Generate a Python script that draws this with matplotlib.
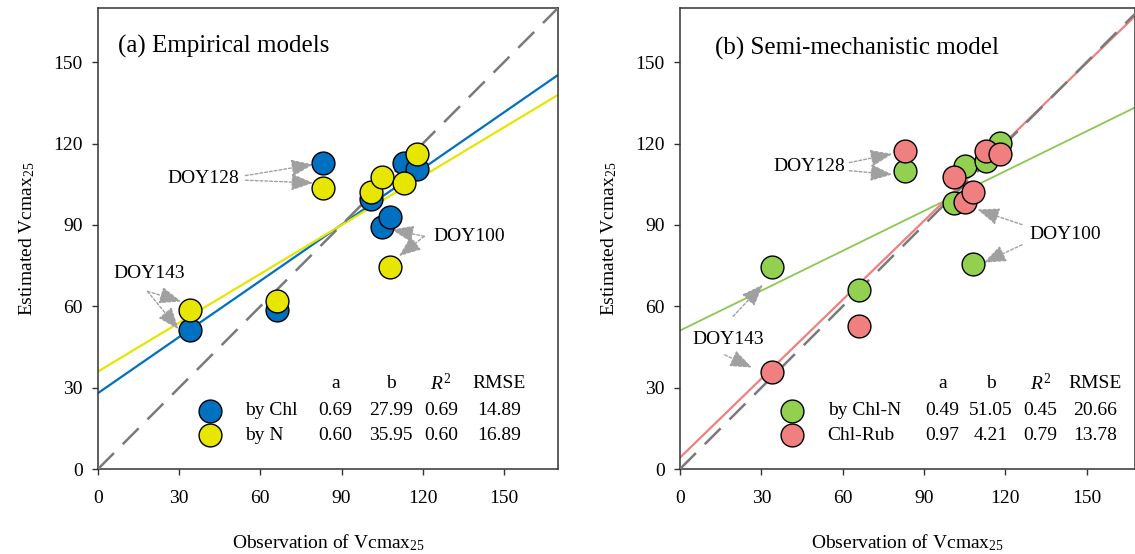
import numpy as np
import matplotlib.pyplot as plt
from matplotlib.lines import Line2D

plt.rcParams['font.family'] = ['Liberation Serif', 'DejaVu Serif']
plt.rcParams['mathtext.fontset'] = 'custom'
plt.rcParams['mathtext.rm'] = 'Liberation Serif'
plt.rcParams['mathtext.it'] = 'Liberation Serif:italic'

# observed Vcmax25 (same plots for every model)
obs = [34, 66, 83, 101, 105, 108, 113, 118]

# (a) empirical models
est_chl = [51.4, 58.7, 112.7, 99.4, 89.4, 93.0, 113.0, 110.5]
est_n = [58.7, 62.1, 103.8, 102.0, 107.5, 74.6, 105.3, 116.0]
# (b) semi-mechanistic model
est_chln = [74.4, 66.1, 109.8, 98.2, 111.7, 75.6, 113.5, 120.3]
est_rub = [35.6, 52.8, 117.2, 107.8, 98.4, 102.1, 117.2, 116.0]

# fit statistics: name, a, b, R2, RMSE
stats_a = [('by Chl', 0.69, 27.99, 0.69, 14.89), ('by N', 0.60, 35.95, 0.60, 16.89)]
stats_b = [('by Chl-N', 0.49, 51.05, 0.45, 20.66), ('Chl-Rub', 0.97, 4.21, 0.79, 13.78)]

ticks = [0, 30, 60, 90, 120, 150]

fig = plt.figure(figsize=(11.35, 5.54), dpi=100)
W, H = 1135, 554
ax1 = fig.add_axes([98/W, 1-469/H, 460/W, 461/H])
ax2 = fig.add_axes([680/W, 1-469/H, 455.4/W, 461/H])


def setup(ax, xmax):
    ax.set_xlim(0, xmax)
    ax.set_ylim(0, 170)
    ax.set_xticks(ticks)
    ax.set_yticks(ticks)
    ax.tick_params(axis='both', direction='out', length=4, width=1, labelsize=14, color='#333333')
    ax.tick_params(axis='x', pad=11)
    ax.tick_params(axis='y', pad=7)
    for s in ax.spines.values():
        s.set_linewidth(1.1)
        s.set_color('#333333')
    ax.set_xlabel('Observation of Vcmax$_{25}$', fontsize=14, labelpad=18)
    ax.set_ylabel('Estimated Vcmax$_{25}$', fontsize=14, labelpad=12)
    ax.plot([0, 170], [0, 170], color='#7a7a7a', lw=1.8, dashes=(9, 5), zorder=3)


def table(ax, stats, colors, xs):
    hx, cx = xs[0], xs[1:]
    ax.text(cx[1], 31.5, 'a', ha='center', va='center', fontsize=14)
    ax.text(cx[2], 31.5, 'b', ha='center', va='center', fontsize=14)
    ax.text(cx[3], 31.5, '$R^2$', ha='center', va='center', fontsize=14)
    ax.text(cx[4], 31.5, 'RMSE', ha='center', va='center', fontsize=14)
    for row, (st, c) in enumerate(zip(stats, colors)):
        y = [21.5, 12.5][row]
        ax.scatter([hx], [y], s=270, color=c, edgecolor='black', linewidth=1, zorder=5, clip_on=False)
        ax.text(cx[0], y, st[0], ha='left', va='center', fontsize=14)
        for k in range(1, 5):
            ax.text(cx[k], y, '%.2f' % st[k], ha='center', va='center', fontsize=14)


def arrow(ax, start, tip):
    ax.annotate('', xy=tip, xytext=start,
                arrowprops=dict(arrowstyle='-|>,head_length=0.9,head_width=0.35',
                                color='#a0a0a0', lw=1, linestyle=(0, (2, 1.5)),
                                mutation_scale=15, shrinkA=0, shrinkB=0))


xs = np.array([0, 170])

# ---- (a)
setup(ax1, 170)
ax1.plot(xs, stats_a[0][1]*xs + stats_a[0][2], color='#0070C0', lw=1.6, zorder=2)
ax1.plot(xs, stats_a[1][1]*xs + stats_a[1][2], color='#E6E600', lw=1.6, zorder=2)
ax1.scatter(obs, est_chl, s=270, color='#0070C0', edgecolor='black', linewidth=1, zorder=5)
ax1.scatter(obs, est_n, s=270, color='#E6E600', edgecolor='black', linewidth=1, zorder=6)
ax1.text(7.5, 156, '(a) Empirical models', fontsize=18, va='center')
table(ax1, stats_a, ['#0070C0', '#E6E600'], [41.5, 54.4, 87.8, 108.3, 126.7, 148.2])

ax1.text(39, 107, 'DOY128', fontsize=14, ha='center', va='center')
arrow(ax1, (54.5, 108.2), (79.5, 112.3))
arrow(ax1, (54.5, 106.5), (79.5, 105.5))
ax1.text(137, 85.8, 'DOY100', fontsize=14, ha='center', va='center')
arrow(ax1, (120.6, 85.8), (108.5, 88.3))
arrow(ax1, (120.6, 85.8), (111.2, 78.5))
ax1.text(18.8, 72, 'DOY143', fontsize=14, ha='center', va='center')
arrow(ax1, (18.3, 65.5), (30.8, 61.8))
arrow(ax1, (18.3, 65.5), (29.8, 51.5))

# ---- (b)
setup(ax2, 168)
ax2.plot(xs, stats_b[0][1]*xs + stats_b[0][2], color='#8CC850', lw=1.3, zorder=2)
ax2.plot(xs, stats_b[1][1]*xs + stats_b[1][2], color='#F08080', lw=1.6, zorder=2)
ax2.scatter(obs, est_chln, s=270, color='#92D050', edgecolor='black', linewidth=1, zorder=5)
ax2.scatter(obs, est_rub, s=270, color='#F08080', edgecolor='black', linewidth=1, zorder=6)
ax2.text(12.9, 155, '(b) Semi-mechanistic model', fontsize=18, va='center')
table(ax2, stats_b, ['#92D050', '#F08080'], [41.4, 54.5, 96.8, 114.6, 133.0, 153.2])

ax2.text(47.8, 111.5, 'DOY128', fontsize=14, ha='center', va='center')
arrow(ax2, (62.5, 113), (78.3, 116.2))
arrow(ax2, (62.5, 110), (78.3, 108.6))
ax2.text(142.2, 86.4, 'DOY100', fontsize=14, ha='center', va='center')
arrow(ax2, (126.2, 90.1), (109.7, 95.7))
arrow(ax2, (126.2, 82.7), (112.1, 76.1))
ax2.text(17.8, 47.7, 'DOY143', fontsize=14, ha='center', va='center')
arrow(ax2, (19.6, 56.3), (30.6, 68.0))
arrow(ax2, (16.5, 42.1), (26.6, 37.4))

fig.savefig('out.png', dpi=100)
